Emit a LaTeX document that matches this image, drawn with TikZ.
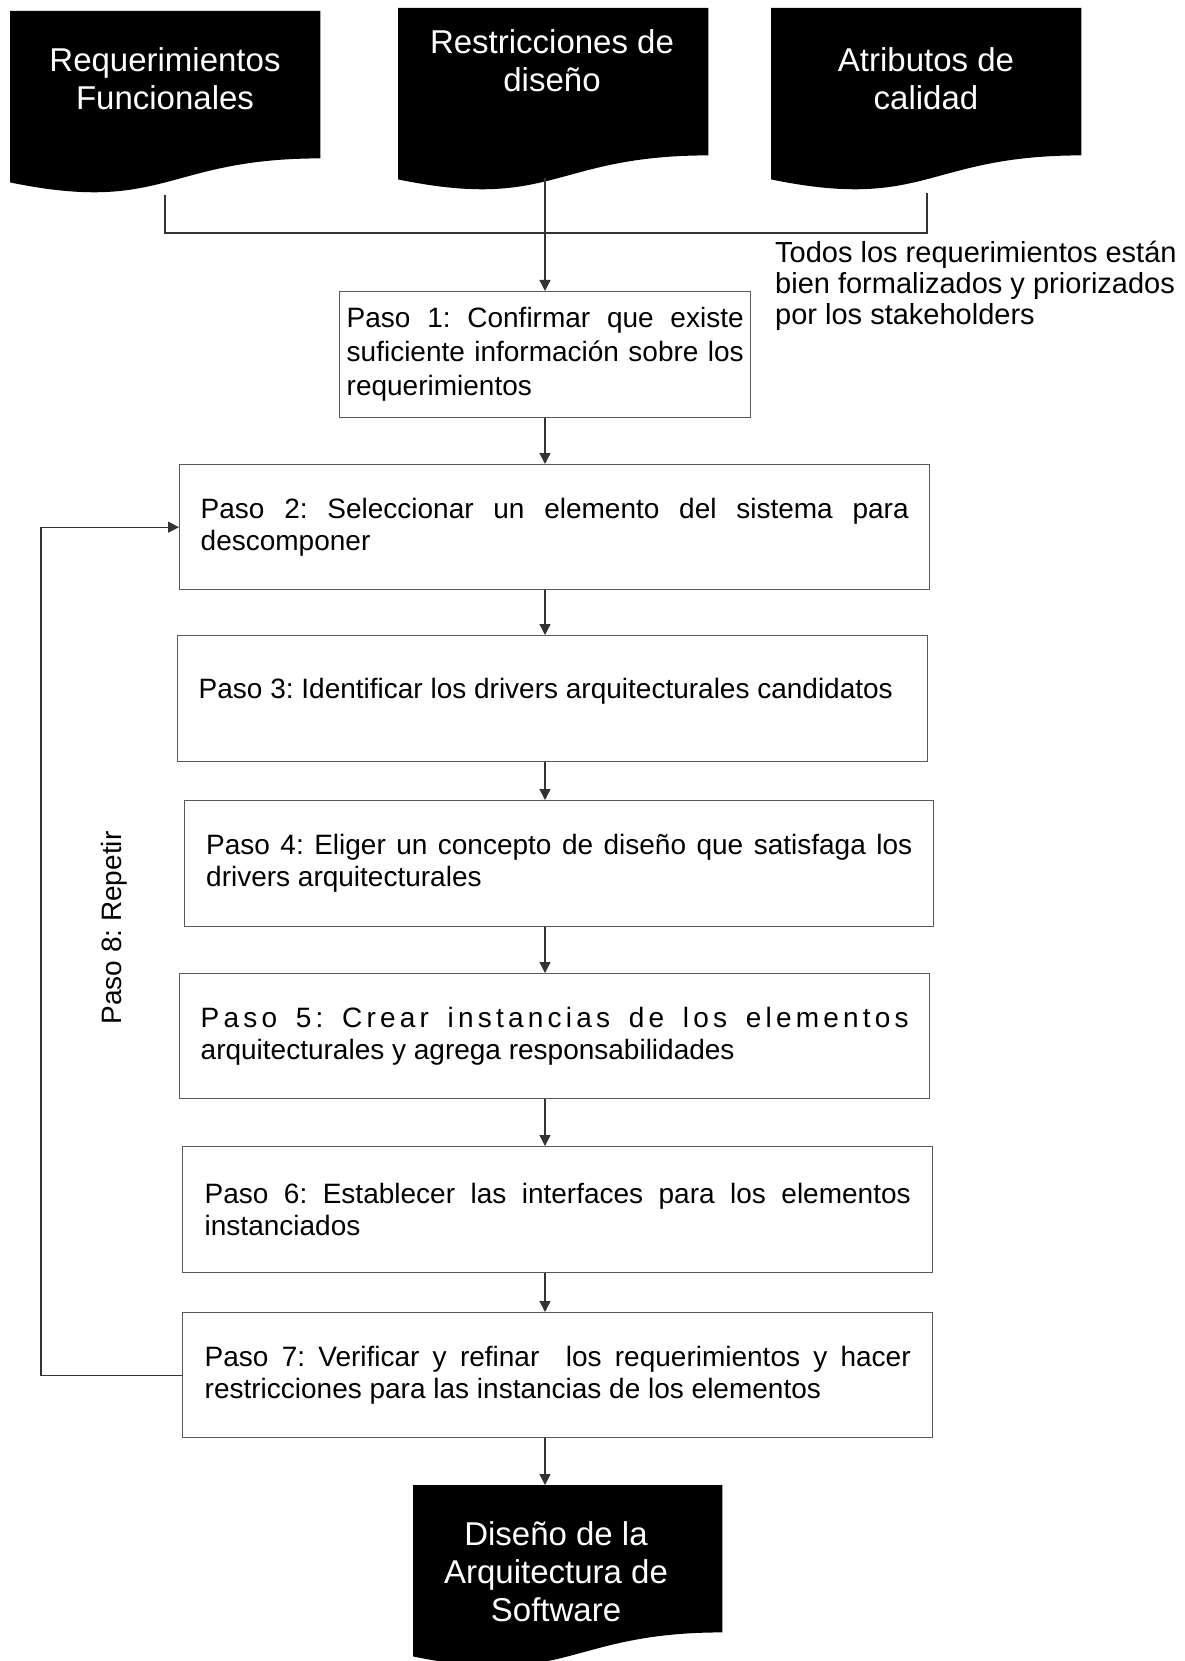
\documentclass[tikz,border=0pt]{standalone}
\usepackage{fontspec}
\setmainfont{Liberation Sans}
\usetikzlibrary{arrows.meta,calc}
\hyphenpenalty=10000
\exhyphenpenalty=10000
\hbadness=10000
\tolerance=10000
\frenchspacing
\newcommand\stepfont{\fontsize{28}{32}\selectfont\frenchspacing}
\newcommand\notefont{\fontsize{29}{31}\selectfont\frenchspacing}
\newcommand\bigfont{\fontsize{33}{38}\selectfont}
\begin{document}
\begin{tikzpicture}[x=1pt,y=-1pt,
  docbox/.style={draw=none, anchor=north west, inner sep=0pt,
    minimum width=310pt, minimum height=147pt},
  doctext/.style={text=white, align=center, font=\bigfont, inner sep=0pt},
  stepbox/.style={draw=black!65, line width=1.4pt, anchor=north west, inner sep=0pt,
    minimum height=125pt, align=justify, font=\stepfont},
  conn/.style={draw=black!80, line width=1.3pt},
  arr/.style={conn, -{Triangle[length=11pt,width=11pt]}},
  note/.style={align=left, font=\notefont, inner sep=0pt}
]
\useasboundingbox (0,0) rectangle (1184,1661);

% document shapes
\node[docbox] (d1) at (10,11) {};
\node[docbox] (d2) at (398,8) {};
\node[docbox] (d3) at (771,8) {};
\node[docbox, minimum width=309pt] (d4) at (413,1485) {};
\foreach \d in {d1,d2,d3,d4}{
  \fill (\d.north west) -- (\d.north east) -- (\d.south east)
    .. controls (\d.south) and ($(\d.south)+(0,56)$) .. ($(\d.south west)+(0,24)$) -- cycle;
}
\node[doctext] (t1) at (165,79) {Requerimientos\\Funcionales};
\node[doctext] (t2) at (552,61) {Restricciones de\\dise\~no};
\node[doctext] (t3) at (926,79) {Atributos de\\calidad};
\node[doctext] (t4) at (556,1572) {Dise\~no de la\\Arquitectura de\\Software};

% note
\node[note, anchor=west] (nt) at (775,286) {Todos los requerimientos están\\bien formalizados y priorizados\\por los stakeholders};

% steps
\node[stepbox, minimum width=411pt, minimum height=126pt, text width=397pt,
  font=\fontsize{28}{34}\selectfont\frenchspacing] (p1) at (339,291)
  {Paso 1: Confirmar que existe\linebreak suficiente información sobre los\linebreak requerimientos};
\node[stepbox, minimum width=750pt, text width=708pt] (p2) at (179,464)
  {Paso 2: Seleccionar un elemento del sistema para\linebreak descomponer};
\node[stepbox, minimum width=750pt, minimum height=126pt, text width=708pt] (p3) at (177,635)
  {\raisebox{20pt}{Paso 3: Identificar los drivers arquitecturales candidatos}};
\node[stepbox, minimum width=749pt, minimum height=126pt, text width=706pt] (p4) at (184,800)
  {Paso 4: Eliger un concepto de diseño que satisfaga los\linebreak drivers arquitecturales};
\node[stepbox, minimum width=750pt, text width=708pt] (p5) at (179,973)
  {{\addfontfeature{LetterSpace=15}Paso 5: Crear instancias de los elementos}\linebreak arquitecturales y agrega responsabilidades};
\node[stepbox, minimum width=750pt, minimum height=126pt, text width=706pt] (p6) at (182,1146)
  {Paso 6: Establecer las interfaces para los elementos\linebreak instanciados};
\node[stepbox, minimum width=750pt, text width=706pt] (p7) at (182,1312)
  {Paso 7: Verificar y refinar\ \ los requerimientos y hacer\linebreak restricciones para las instancias de los elementos};

% repeat label
\node[rotate=90, font=\stepfont, inner sep=0pt] (rep) at (114,928) {Paso 8: Repetir};

% helper coordinates
\coordinate (sp) at (545,0);
\coordinate (lp) at (41,0);
\coordinate (w1) at (165,195);
\coordinate (w2) at (545,178);
\coordinate (w3) at (927,193);
\coordinate (jn) at (545,233);

% connectors
\draw[conn] (w1) -- (w1 |- jn) -- (w3 |- jn) -- (w3);
\draw[arr] (w2) -- (w2 |- p1.north);
\draw[arr] (p1.south -| sp) -- (p2.north -| sp);
\draw[arr] (p2.south -| sp) -- (p3.north -| sp);
\draw[arr] (p3.south -| sp) -- (p4.north -| sp);
\draw[arr] (p4.south -| sp) -- (p5.north -| sp);
\draw[arr] (p5.south -| sp) -- (p6.north -| sp);
\draw[arr] (p6.south -| sp) -- (p7.north -| sp);
\draw[arr] (p7.south -| sp) -- (d4.north -| sp);
\draw[arr] (p7.west) -- (p7.west -| lp) -- (p2.west -| lp) -- (p2.west);
\end{tikzpicture}
\end{document}
